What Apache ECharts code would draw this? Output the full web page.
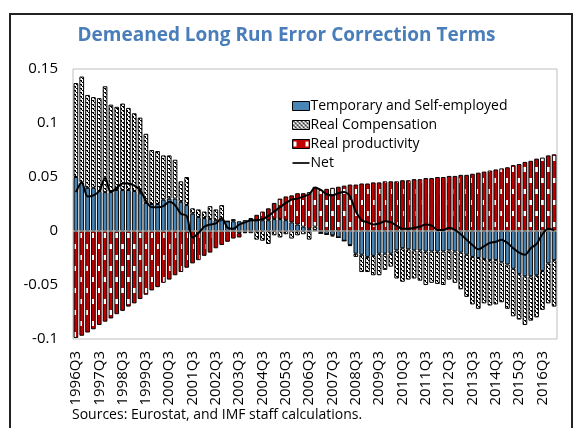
<!DOCTYPE html>
<html>
<head>
<meta charset="utf-8">
<script src="https://cdn.jsdelivr.net/npm/echarts@6/dist/echarts.min.js"></script>
<style>
html,body{margin:0;padding:0;background:#fff;}
#chart{width:573px;height:428px;}
</style>
</head>
<body>
<div id="chart"></div>
<script>
const categories = [
'1996Q3','1996Q4','1997Q1','1997Q2','1997Q3','1997Q4','1998Q1','1998Q2','1998Q3','1998Q4',
'1999Q1','1999Q2','1999Q3','1999Q4','2000Q1','2000Q2','2000Q3','2000Q4','2001Q1','2001Q2',
'2001Q3','2001Q4','2002Q1','2002Q2','2002Q3','2002Q4','2003Q1','2003Q2','2003Q3','2003Q4',
'2004Q1','2004Q2','2004Q3','2004Q4','2005Q1','2005Q2','2005Q3','2005Q4','2006Q1','2006Q2',
'2006Q3','2006Q4','2007Q1','2007Q2','2007Q3','2007Q4','2008Q1','2008Q2','2008Q3','2008Q4',
'2009Q1','2009Q2','2009Q3','2009Q4','2010Q1','2010Q2','2010Q3','2010Q4','2011Q1','2011Q2',
'2011Q3','2011Q4','2012Q1','2012Q2','2012Q3','2012Q4','2013Q1','2013Q2','2013Q3','2013Q4',
'2014Q1','2014Q2','2014Q3','2014Q4','2015Q1','2015Q2','2015Q3','2015Q4','2016Q1','2016Q2',
'2016Q3','2016Q4','2017Q1'
];

const tempSelfEmployed = [
0.050, 0.045, 0.040, 0.040, 0.037, 0.036, 0.036, 0.038, 0.038, 0.038,
0.037, 0.035, 0.026, 0.025, 0.025, 0.029, 0.030, 0.030, 0.027, 0.024,
0.016, 0.013, 0.012, 0.011, 0.010, 0.010, 0.009, 0.009, 0.009, 0.010,
0.010, 0.010, 0.010, 0.010, 0.011, 0.011, 0.010, 0.008, 0.006, 0.004,
0.002, 0.001, -0.002, -0.003, -0.004, -0.006, -0.009, -0.013, -0.021, -0.022,
-0.024, -0.023, -0.021, -0.021, -0.021, -0.018, -0.016, -0.017, -0.018, -0.018,
-0.019, -0.019, -0.019, -0.019, -0.018, -0.019, -0.020, -0.022, -0.024, -0.025,
-0.026, -0.027, -0.027, -0.029, -0.031, -0.035, -0.040, -0.042, -0.042, -0.041,
-0.037, -0.030, -0.027
];

const realCompensation = [
0.087, 0.098, 0.086, 0.084, 0.086, 0.098, 0.081, 0.077, 0.080, 0.076,
0.072, 0.070, 0.064, 0.050, 0.049, 0.041, 0.040, 0.036, 0.019, 0.026,
0.005, 0.007, 0.006, 0.012, 0.010, 0.014, 0.000, 0.002, -0.002, -0.001,
-0.002, -0.008, -0.009, -0.012, -0.004, -0.006, -0.003, -0.007, -0.004, -0.003,
-0.008, 0.003, 0.000, 0.000, -0.001, 0.000, 0.000, -0.001, -0.003, -0.016,
-0.014, -0.018, -0.020, -0.015, -0.012, -0.026, -0.031, -0.028, -0.026, -0.028,
-0.031, -0.029, -0.030, -0.031, -0.027, -0.029, -0.034, -0.039, -0.044, -0.047,
-0.041, -0.042, -0.041, -0.037, -0.041, -0.044, -0.042, -0.045, -0.041, -0.039,
-0.036, -0.037, -0.043
];

const realProductivity = [
-0.099, -0.097, -0.094, -0.091, -0.087, -0.084, -0.081, -0.077, -0.074, -0.070,
-0.067, -0.063, -0.059, -0.055, -0.052, -0.048, -0.045, -0.041, -0.038, -0.034,
-0.030, -0.027, -0.023, -0.020, -0.016, -0.013, -0.010, -0.007, -0.004, -0.001,
0.002, 0.005, 0.008, 0.011, 0.015, 0.019, 0.022, 0.025, 0.029, 0.031,
0.034, 0.037, 0.038, 0.039, 0.040, 0.041, 0.042, 0.043, 0.043, 0.044,
0.044, 0.045, 0.045, 0.046, 0.046, 0.046, 0.047, 0.047, 0.048, 0.048,
0.049, 0.049, 0.050, 0.050, 0.051, 0.051, 0.052, 0.052, 0.053, 0.054,
0.055, 0.056, 0.057, 0.058, 0.059, 0.061, 0.062, 0.064, 0.065, 0.067,
0.068, 0.070, 0.071
];

const netValues = [
0.036, 0.045, 0.032, 0.033, 0.037, 0.049, 0.036, 0.040, 0.044, 0.044,
0.042, 0.038, 0.028, 0.022, 0.022, 0.023, 0.027, 0.024, 0.016, 0.014,
-0.006, -0.002, 0.004, 0.006, 0.007, 0.012, 0.003, 0.002, 0.006, 0.008,
0.010, 0.010, 0.011, 0.014, 0.018, 0.022, 0.026, 0.029, 0.030, 0.032,
0.034, 0.040, 0.038, 0.034, 0.033, 0.035, 0.036, 0.032, 0.018, 0.010,
0.008, 0.006, 0.007, 0.009, 0.008, 0.005, 0.002, 0.002, 0.003, 0.004,
0.006, 0.005, 0.001, 0.001, 0.003, 0.001, -0.003, -0.008, -0.013, -0.017,
-0.014, -0.011, -0.010, -0.008, -0.011, -0.016, -0.020, -0.022, -0.016, -0.012,
-0.003, 0.002, 0.001
];

const FONT = '"Open Sans", "DejaVu Sans", sans-serif';

function hatchPattern() {
  const n = 4;
  const c = document.createElement('canvas');
  c.width = n; c.height = n;
  const ctx = c.getContext('2d');
  ctx.fillStyle = '#ffffff';
  ctx.fillRect(0, 0, n, n);
  ctx.fillStyle = '#000000';
  for (let i = 0; i < n; i++) {
    ctx.fillRect(i, i, 1, 1);
    if (i % 2 === 0) ctx.fillRect((i + 1) % n, i, 1, 1);
  }
  return { image: c, repeat: 'repeat' };
}
function redPattern() {
  const c = document.createElement('canvas');
  c.width = 12; c.height = 22;
  const ctx = c.getContext('2d');
  ctx.fillStyle = '#C00000';
  ctx.fillRect(0, 0, 12, 22);
  ctx.fillStyle = '#ffffff';
  ctx.fillRect(1, 2, 3, 5);
  ctx.fillRect(7, 13, 3, 5);
  return { image: c, repeat: 'repeat' };
}

const chart = echarts.init(document.getElementById('chart'), null, { renderer: 'canvas' });
const barCommon = { type: 'bar', stack: 'total', barWidth: '80%' };
chart.setOption({
  animation: false,
  backgroundColor: '#ffffff',
  title: {
    text: 'Demeaned Long Run Error Correction Terms',
    left: 'center', top: 21,
    textStyle: { color: '#4A7EBB', fontSize: 19, fontWeight: 'bold', fontFamily: FONT }
  },
  graphic: [
    { type: 'rect', shape: { x: 10, y: 14, width: 562, height: 430 },
      style: { fill: 'none', stroke: '#222', lineWidth: 2 }, silent: true },
    { type: 'text', left: 72, top: 408,
      style: { text: 'Sources: Eurostat, and IMF staff calculations.', fontSize: 14, fontFamily: FONT, fill: '#000' } }
  ],
  legend: {
    orient: 'vertical', left: 287, top: 94, itemWidth: 17, itemHeight: 9, itemGap: 5,
    textStyle: { fontSize: 14, fontFamily: FONT, color: '#000', padding: [0, 0, 0, -4] },
    itemStyle: { borderColor: '#000', borderWidth: 1 },
    data: [
      { name: 'Temporary and Self-employed', icon: 'rect' },
      { name: 'Real Compensation', icon: 'rect' },
      { name: 'Real productivity', icon: 'rect' },
      { name: 'Net', icon: 'path://M0,0H20V2H0Z', itemStyle: { color: '#000', borderWidth: 0 } }
    ]
  },
  grid: { left: 73, right: 16, top: 69, bottom: 89, show: true, borderColor: '#bfbfbf', borderWidth: 1 },
  xAxis: {
    type: 'category', data: categories,
    axisLine: { show: false }, axisTick: { show: false },
    axisLabel: { interval: 3, rotate: 90, fontSize: 15, fontFamily: FONT, color: '#000', margin: 12 }
  },
  yAxis: {
    type: 'value', min: -0.1, max: 0.15, interval: 0.05,
    splitLine: { show: false }, axisLine: { show: false }, axisTick: { show: false },
    axisLabel: { fontSize: 15, fontFamily: FONT, color: '#000', margin: 15 }
  },
  series: [
    Object.assign({}, barCommon, {
      name: 'Temporary and Self-employed', data: tempSelfEmployed,
      itemStyle: { color: '#4886B8', borderColor: '#000', borderWidth: 1 }
    }),
    Object.assign({}, barCommon, {
      name: 'Real Compensation', data: realCompensation,
      itemStyle: { color: hatchPattern(), borderColor: '#000', borderWidth: 1 }
    }),
    Object.assign({}, barCommon, {
      name: 'Real productivity', data: realProductivity,
      itemStyle: { color: redPattern(), borderColor: '#000', borderWidth: 1 },
      markLine: {
        silent: true, symbol: 'none', label: { show: false },
        lineStyle: { color: '#a6a6a6', width: 1.5, type: 'solid' },
        data: [{ yAxis: 0 }]
      }
    }),
    {
      name: 'Net', type: 'line', data: netValues, symbol: 'none', smooth: 0.3,
      lineStyle: { color: '#000', width: 2 }, itemStyle: { color: '#000' }, z: 5
    }
  ]
});
</script>
</body>
</html>
